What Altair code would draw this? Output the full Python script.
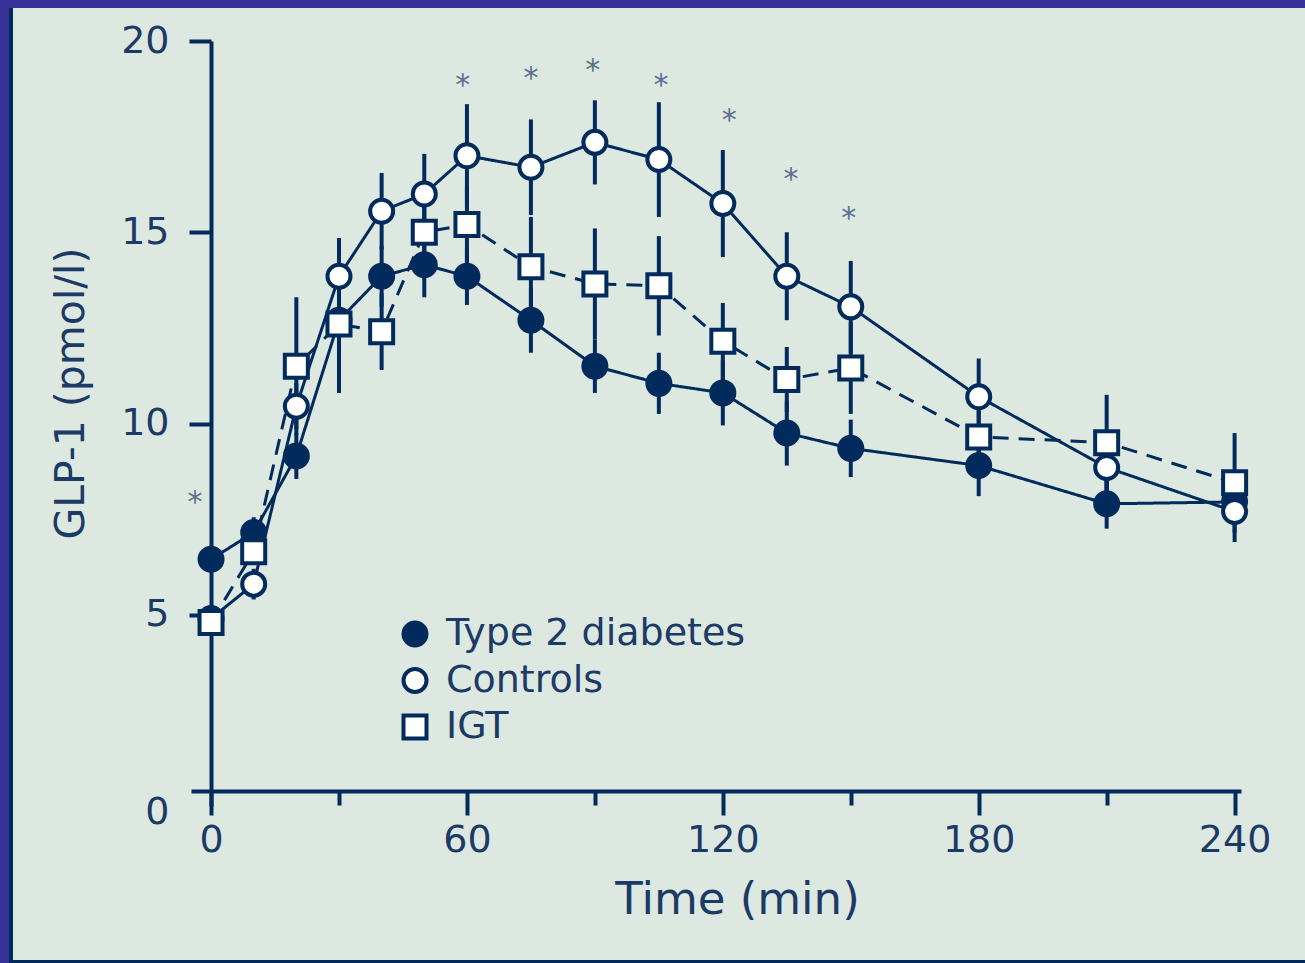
import altair as alt
import pandas as pd

# ---- data ----
times = [0, 10, 20, 30, 40, 50, 60, 75, 90, 105, 120, 135, 150, 180, 210, 240]

t2d = [6.45, 7.15, 9.15, 12.7, 13.85, 14.15, 13.85, 12.7, 11.5, 11.05, 10.8, 9.75, 9.35, 8.9, 7.9, 7.95]
t2d_se = [0.3, 0.4, 0.6, 0.9, 0.8, 0.85, 0.75, 0.85, 0.7, 0.8, 0.85, 0.85, 0.75, 0.8, 0.65, 0.6]

controls = [4.9, 5.8, 10.45, 13.85, 15.55, 16.0, 17.0, 16.7, 17.35, 16.9, 15.75, 13.85, 13.05, 10.7, 8.85, 7.7]
controls_se = [0.3, 0.4, 0.6, 1.0, 1.0, 1.05, 1.35, 1.25, 1.1, 1.5, 1.4, 1.15, 1.2, 1.0, 0.8, 0.8]

igt = [4.8, 6.65, 11.5, 12.6, 12.4, 15.0, 15.2, 14.1, 13.65, 13.6, 12.15, 11.15, 11.45, 9.65, 9.5, 8.45]
igt_se = [0.3, 0.35, 1.8, 1.8, 1.0, 1.0, 1.0, 1.3, 1.45, 1.3, 1.0, 0.85, 1.2, 0.8, 1.25, 1.3]

series_names = ["Type 2 diabetes", "Controls", "IGT"]

star_times = [-3.75, 59, 75, 89.5, 105.5, 121.5, 136, 149.5]
star_values = [8.13, 19.03, 19.22, 19.42, 19.03, 18.12, 16.58, 15.56]

x_ticks = [0, 30, 60, 90, 120, 150, 180, 210, 240]
y_ticks = [0, 5, 10, 15, 20]

# ---- styling ----
NAVY = "#002b5c"
TEXT = "#1b3a66"
STAR = "#5d7090"
BG = "#dde8e1"
PURPLE = "#37339a"
FONT = "DejaVu Sans"

rows = []
for name, vals, ses in zip(series_names, [t2d, controls, igt], [t2d_se, controls_se, igt_se]):
    for t, v, s in zip(times, vals, ses):
        rows.append({"series": name, "line_style": name,
                     "time": t, "value": v, "lo": v - s, "hi": v + s})
df = pd.DataFrame(rows)
stars = pd.DataFrame({"time": star_times, "value": star_values, "txt": ["*"] * len(star_times)})
legend_df = pd.DataFrame({"series": series_names})

xscale = alt.Scale(domain=[-4.7, 241.5], nice=False, zero=False)
yscale = alt.Scale(domain=[0, 20], nice=False)
shape_scale = alt.Scale(domain=series_names, range=["circle", "circle", "square"])
fill_scale = alt.Scale(domain=series_names, range=[NAVY, "white", "white"])

x_axis = alt.Axis(
    values=x_ticks,
    labelExpr="datum.value % 60 === 0 ? datum.label : ''",
    tickSize={"condition": {"test": "datum.value % 60 === 0", "value": 24}, "value": 14},
    tickWidth=4, tickColor=NAVY, domainWidth=4, domainColor=NAVY,
    labelFontSize=38, labelColor=TEXT, labelFont=FONT, labelPadding=6, labelFlush=False,
    offset=-15, grid=False,
    title="Time (min)", titleFontSize=45, titleFont=FONT, titleFontWeight="normal",
    titleColor=TEXT, titleX=546, titleY=122, titleBaseline="alphabetic", titleAlign="center",
)
y_axis = alt.Axis(
    values=y_ticks,
    tickSize=22, tickWidth=4, tickColor=NAVY, domainWidth=4, domainColor=NAVY,
    tickOpacity={"condition": {"test": "datum.value === 0", "value": 0}, "value": 1},
    labelOffset={"condition": {"test": "datum.value === 0", "value": 6}, "value": 0},
    labelFontSize=38, labelColor=TEXT, labelFont=FONT, labelPadding=20,
    offset=-20, grid=False,
    title="GLP-1 (pmol/l)", titleFontSize=41, titleFont=FONT, titleFontWeight="normal",
    titleColor=TEXT, titleAngle=270, titleX=-128, titleY=352,
    titleBaseline="alphabetic", titleAlign="center",
)

base = alt.Chart(df)

errbars = base.mark_rule(color=NAVY, strokeWidth=4).encode(
    x=alt.X("time:Q", scale=xscale, axis=x_axis),
    y=alt.Y("lo:Q", scale=yscale, axis=y_axis),
    y2="hi:Q",
)

lines = base.mark_line(color=NAVY, strokeWidth=3).encode(
    x=alt.X("time:Q", scale=xscale),
    y=alt.Y("value:Q", scale=yscale),
    detail="line_style:N",
    strokeDash=alt.StrokeDash("line_style:N", scale=alt.Scale(domain=series_names, range=[[1, 0], [1, 0], [16, 10]]), legend=None),
)

points = base.mark_point(stroke=NAVY, strokeWidth=4, size=529, opacity=1, filled=False).encode(
    x=alt.X("time:Q", scale=xscale),
    y=alt.Y("value:Q", scale=yscale),
    shape=alt.Shape("series:N", scale=shape_scale, legend=None),
    fill=alt.Fill("series:N", scale=fill_scale, legend=None),
)

star_layer = alt.Chart(stars).mark_text(
    fontSize=30, font=FONT, color=STAR, baseline="alphabetic", align="center", dy=17
).encode(
    x=alt.X("time:Q", scale=xscale),
    y=alt.Y("value:Q", scale=yscale),
    text="txt:N",
)

main = alt.layer(errbars, lines, points, star_layer)

# ---- legend (drawn as its own small layer, rows placed by a point scale) ----
leg_y = alt.Y("series:N", scale=alt.Scale(type="point", domain=series_names, range=[593, 686], padding=0), axis=None)
leg_pts = alt.Chart(legend_df).mark_point(stroke=NAVY, strokeWidth=4, size=529, opacity=1, filled=False).encode(
    x=alt.value(224),
    y=leg_y,
    shape=alt.Shape("series:N", scale=shape_scale, legend=None),
    fill=alt.Fill("series:N", scale=fill_scale, legend=None),
)
leg_txt = alt.Chart(legend_df).mark_text(
    fontSize=38, font=FONT, color=TEXT, align="left", baseline="middle"
).encode(
    x=alt.value(255),
    y=leg_y,
    text="series:N",
)
legend_layer = alt.layer(leg_pts, leg_txt)

# decorative frame (purple strips top/left, navy inner lines)
one = pd.DataFrame({"k": [0]})
frame_top = alt.Chart(one).mark_rule(color=PURPLE, strokeWidth=8).encode(
    x=alt.value(-191), x2=alt.value(1114), y=alt.value(-37))
frame_left = alt.Chart(one).mark_rule(color=PURPLE, strokeWidth=9).encode(
    x=alt.value(-186.5), y=alt.value(-41), y2=alt.value(922))
frame_left_in = alt.Chart(one).mark_rule(color=NAVY, strokeWidth=4).encode(
    x=alt.value(-180), y=alt.value(-33), y2=alt.value(922))
frame_bottom = alt.Chart(one).mark_rule(color=NAVY, strokeWidth=3).encode(
    x=alt.value(-182), x2=alt.value(1114), y=alt.value(920.5))

chart = alt.layer(
    main, legend_layer, frame_top, frame_left, frame_left_in, frame_bottom
).resolve_scale(
    y="independent"
).properties(
    width=1050, height=765,
    padding={"left": 191, "top": 41, "right": 64, "bottom": 157},
    autosize=alt.AutoSizeParams(type="none"),
    background=BG,
).configure(font=FONT).configure_view(stroke=None, fill=BG)

chart.save("out.html", embed_options={"renderer": "svg", "actions": False})
